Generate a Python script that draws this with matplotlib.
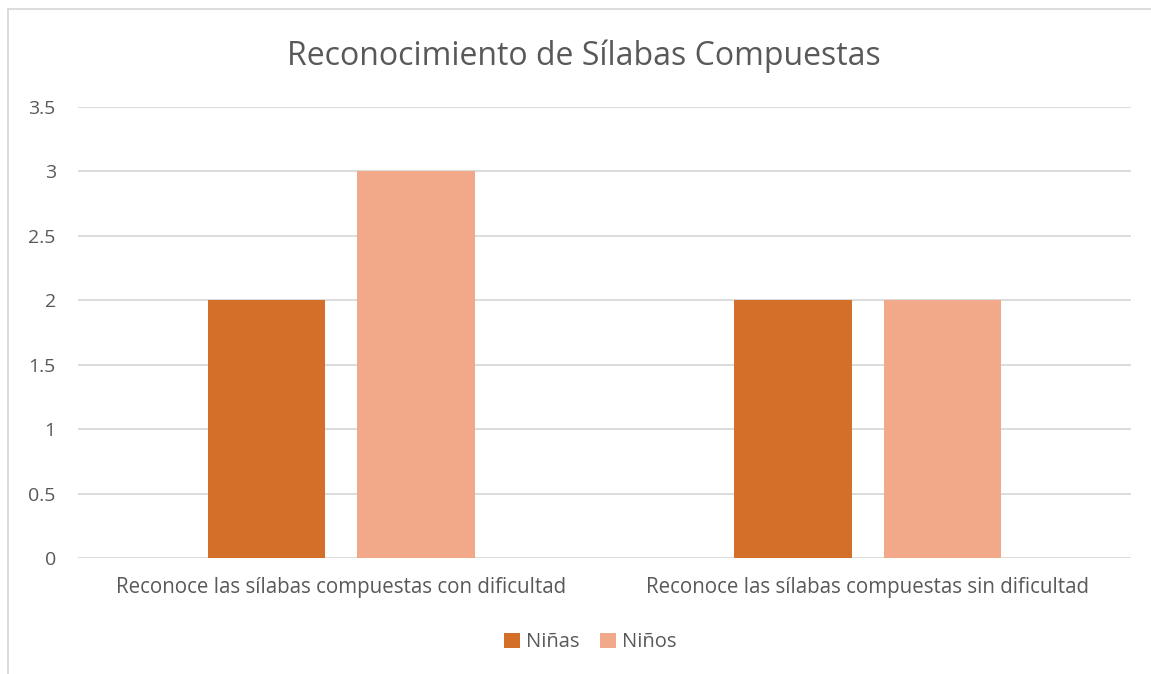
import matplotlib.pyplot as plt
import numpy as np

categorias = ['Reconoce las sílabas compuestas con dificultad',
              'Reconoce las sílabas compuestas sin dificultad']
ninas = [2, 2]
ninos = [3, 2]

plt.rcParams['font.family'] = ['Open Sans', 'DejaVu Sans']

fig = plt.figure(figsize=(11.51, 6.74), dpi=100)
ax = fig.add_axes([78/1151, 1 - 558/674, (1131-78)/1151, (558-107)/674])

x = np.arange(len(categorias))
w = 0.224
ax.bar(x - 0.142, ninas, w, color='#D46F2A', label='Niñas', zorder=3)
ax.bar(x + 0.142, ninos, w, color='#F1A98A', label='Niños', zorder=3)

ax.set_xlim(-0.5, 1.5)
ax.set_ylim(0, 3.5)
ax.set_yticks(np.arange(0, 3.51, 0.5))
ax.set_yticklabels(['0', '0.5', '1', '1.5', '2', '2.5', '3', '3.5'])
ax.set_xticks(x)
ax.set_xticklabels(categorias)
ax.grid(axis='y', color='#D9D9D9', linewidth=1.3, zorder=0)
for s in ax.spines.values():
    s.set_visible(False)
ax.tick_params(length=0, colors='#595959')
ax.tick_params(axis='y', labelsize=14, pad=16)
ax.tick_params(axis='x', labelsize=14.8, pad=14)

fig.text(0.507, 0.917, 'Reconocimiento de Sílabas Compuestas', ha='center', va='center',
         fontsize=23, color='#595959')

fig.legend(loc='center', bbox_to_anchor=(0.513, 0.047), ncol=2, frameon=False,
           fontsize=14.5, labelcolor='#595959', handlelength=0.8, handleheight=0.8,
           handletextpad=0.3, columnspacing=1.0)

# borde del gráfico
fig.add_artist(plt.Line2D([8/1151, 8/1151], [0, 1 - 9/674], color='#D9D9D9', lw=1.3))
fig.add_artist(plt.Line2D([8/1151, 1], [1 - 9/674, 1 - 9/674], color='#D9D9D9', lw=1.3))

fig.savefig('out.png', dpi=100)
